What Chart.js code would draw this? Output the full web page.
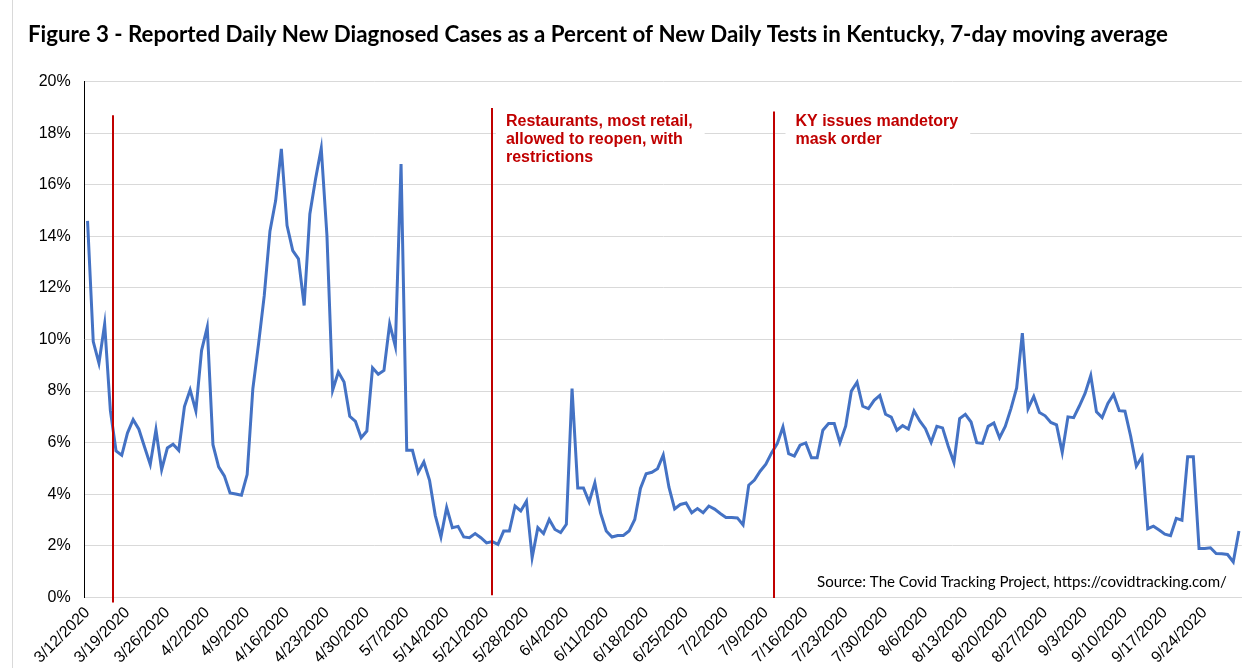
<!DOCTYPE html>
<html><head><meta charset="utf-8">
<script src="https://cdn.jsdelivr.net/npm/chart.js@4"></script>
<style>html,body{margin:0;padding:0;background:#fff}#wrap{width:1248px;height:668px;position:relative}canvas{display:block}</style>
</head><body><div id="wrap"><canvas id="c" width="1248" height="668"></canvas></div>
<script>
const titleText = 'Figure 3 - Reported Daily New Diagnosed Cases as a Percent of New Daily Tests in Kentucky, 7-day moving average';
const sourceText = 'Source: The Covid Tracking Project, https://covidtracking.com/';

// daily categories: 3/12/2020 .. 9/30/2020
const startDate = [2020, 3, 12];
const dayCount = 203;
const tickEvery = 7;

// 7-day moving average, positive tests as % of new tests
const positivityPct = [
  14.6, 9.92, 9.08, 10.6, 7.25, 5.68, 5.51, 6.37, 6.89, 6.52, 5.83, 5.15, 6.5, 4.95, 5.79, 5.94, 5.7, 7.4, 8.05, 7.23, 9.57, 10.48, 5.92, 5.06, 4.71, 4.05, 4.01, 3.96, 4.76, 8.09, 9.83, 11.7, 14.2,
  15.39, 17.39, 14.42, 13.45, 13.13, 11.32, 14.87, 16.23, 17.42, 14.03, 8.03, 8.74, 8.35, 7.02, 6.82, 6.19, 6.45, 8.9, 8.65, 8.8, 10.61, 9.74, 16.81, 5.7, 5.7, 4.84, 5.25, 4.54, 3.18, 2.34, 3.48, 2.7, 2.75,
  2.34, 2.31, 2.47, 2.31, 2.11, 2.16, 2.05, 2.57, 2.57, 3.54, 3.35, 3.73, 1.54, 2.70, 2.47, 3.02, 2.63, 2.51, 2.83, 8.1, 4.24, 4.24, 3.70, 4.44, 3.27, 2.57, 2.34, 2.40, 2.40, 2.57, 3.02, 4.22, 4.79, 4.85,
  4.99, 5.52, 4.27, 3.43, 3.6, 3.66, 3.28, 3.44, 3.28, 3.54, 3.42, 3.25, 3.10, 3.10, 3.08, 2.81, 4.35, 4.55, 4.89, 5.16, 5.6, 5.96, 6.61, 5.57, 5.48, 5.9, 5.99, 5.41, 5.41, 6.48, 6.74, 6.74, 6.0,
  6.64, 8.0, 8.34, 7.41, 7.32, 7.64, 7.83, 7.10, 6.99, 6.48, 6.66, 6.53, 7.23, 6.84, 6.54, 6.01, 6.63, 6.57, 5.86, 5.23, 6.93, 7.10, 6.80, 6.0, 5.97, 6.63, 6.76, 6.19, 6.63, 7.32, 8.12, 10.25, 7.32, 7.79,
  7.17, 7.04, 6.78, 6.69, 5.62, 7.0, 6.97, 7.42, 7.91, 8.6, 7.2, 6.97, 7.52, 7.87, 7.24, 7.22, 6.25, 5.09, 5.45, 2.66, 2.76, 2.61, 2.45, 2.39, 3.06, 2.99, 5.45, 5.45, 1.89, 1.89, 1.92, 1.70, 1.69, 1.66, 1.37, 2.57
];

// policy event markers (day index from 3/12, line extent in %)
const eventDays = [4.45, 70.9, 120.5];
const eventTopPct = [18.7, 18.98, 18.84];
const eventBottomPct = [-0.2, 0.08, -0.03];
const eventLabels = [
  [],
  ['Restaurants, most retail,', 'allowed to reopen, with', 'restrictions'],
  ['KY issues mandetory', 'mask order']
];
const eventLabelDays = [null, 73.4, 124.2];

// build category labels
const dates = [];
for (let i = 0; i < dayCount; i++) {
  const d = new Date(startDate[0], startDate[1] - 1, startDate[2] + i);
  dates.push((d.getMonth() + 1) + '/' + d.getDate() + '/' + d.getFullYear());
}

const RED = '#C00000';
const BLUE = '#4472C4';
const GRID = '#D9D9D9';

function fitFont(ctx, text, weight, family, target) {
  ctx.font = weight + ' 20px ' + family;
  const w = ctx.measureText(text).width;
  return 20 * target / w;
}

const overlay = {
  id: 'overlay',
  beforeDraw(chart) {
    const ctx = chart.ctx;
    ctx.save();
    ctx.fillStyle = '#fff';
    ctx.fillRect(0, 0, chart.width, chart.height);
    ctx.strokeStyle = GRID;
    ctx.lineWidth = 1;
    ctx.beginPath();
    ctx.moveTo(12.5, 0); ctx.lineTo(12.5, chart.height);
    ctx.stroke();
    const fam = 'Lato, "Liberation Sans", sans-serif';
    const ts = fitFont(ctx, titleText, 'bold', fam, 1140);
    ctx.font = 'bold ' + ts.toFixed(2) + 'px ' + fam;
    ctx.fillStyle = '#000';
    ctx.textBaseline = 'alphabetic';
    ctx.textAlign = 'left';
    ctx.fillText(titleText, 28, 42);
    ctx.restore();
  },
  afterDatasetsDraw(chart) {
    const ctx = chart.ctx;
    const x = chart.scales.x, y = chart.scales.y;
    const top = chart.chartArea.top;
    ctx.save();
    eventDays.forEach((day, k) => {
      const px = Math.round(x.getPixelForValue(day));
      ctx.strokeStyle = RED;
      ctx.lineWidth = 2;
      ctx.beginPath();
      ctx.moveTo(px, y.getPixelForValue(eventTopPct[k]));
      ctx.lineTo(px, y.getPixelForValue(eventBottomPct[k]));
      ctx.stroke();
      const lines = eventLabels[k];
      if (lines.length) {
        const tx = x.getPixelForValue(eventLabelDays[k]);
        ctx.font = 'bold 16px "Liberation Sans", Arial, sans-serif';
        let mw = 0;
        lines.forEach(l => { mw = Math.max(mw, ctx.measureText(l).width); });
        const b0 = top + 44.3;
        ctx.fillStyle = '#fff';
        ctx.fillRect(tx - 10, b0 - 17, mw + 22, (lines.length - 1) * 18 + 24);
        ctx.fillStyle = RED;
        ctx.textAlign = 'left';
        ctx.textBaseline = 'alphabetic';
        lines.forEach((l, j) => ctx.fillText(l, tx, b0 + j * 18));
      }
    });
    const fam = 'Lato, "Liberation Sans", sans-serif';
    const ss = fitFont(ctx, sourceText, 'normal', fam, 410);
    ctx.font = 'normal ' + ss.toFixed(2) + 'px ' + fam;
    ctx.fillStyle = '#000';
    ctx.textAlign = 'left';
    ctx.fillText(sourceText, 817, 587);
    ctx.restore();
  }
};

new Chart(document.getElementById('c'), {
  type: 'line',
  data: {
    labels: dates,
    datasets: [{
      data: positivityPct,
      borderColor: BLUE,
      borderWidth: 3,
      pointRadius: 0,
      tension: 0,
      fill: false
    }]
  },
  options: {
    responsive: false,
    animation: false,
    devicePixelRatio: 1,
    layout: { padding: { left: 28, top: 81.7, right: 6.2, bottom: 0 } },
    plugins: { legend: { display: false }, title: { display: false }, tooltip: { enabled: false } },
    scales: {
      x: {
        offset: true,
        grid: { display: false, drawTicks: false },
        border: { display: true, color: GRID, width: 1 },
        ticks: {
          autoSkip: false,
          minRotation: 45,
          maxRotation: 45,
          padding: 6,
          color: '#000',
          font: { family: '"Liberation Sans", Arial, sans-serif', size: 16 },
          callback: (v, i) => (i % tickEvery === 0 ? dates[i] : '')
        },
        afterFit: s => { s.height = 70.7; s.paddingLeft = 0; s.paddingRight = 0; }
      },
      y: {
        min: 0, max: 20,
        grid: { color: GRID, lineWidth: 1, drawTicks: false },
        border: { display: true, color: '#000', width: 1 },
        ticks: {
          stepSize: 2,
          padding: 14,
          color: '#000',
          font: { family: '"Liberation Sans", Arial, sans-serif', size: 16 },
          callback: v => v + '%'
        },
        afterFit: s => { s.width = 56.7; s.paddingTop = 0; s.paddingBottom = 0; }
      }
    }
  },
  plugins: [overlay]
});
</script>
</body></html>
